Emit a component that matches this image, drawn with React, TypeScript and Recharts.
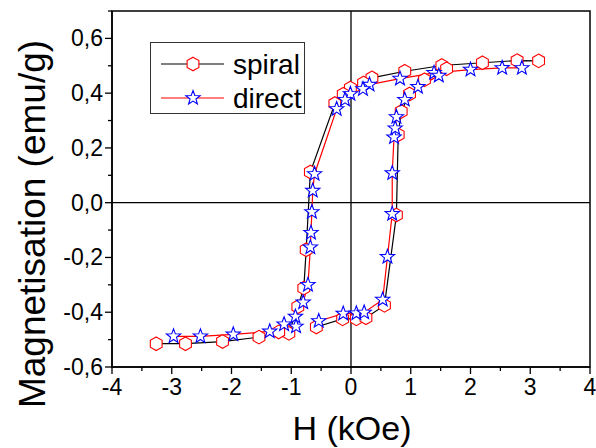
import { LineChart, Line, XAxis, YAxis, ReferenceLine, ReferenceArea, Legend, Label } from 'recharts'

// H (kOe) and M (emu/g), split in the two branches of the loop
const spiralDownH = [3.14, 2.78, 2.2, 1.52, 0.9, 0.35, 0.21, -0.01, -0.13, -0.27, -0.68, -0.75, -0.79, -0.89, -1.04, -1.21, -1.54, -2.15, -2.77, -3.26]
const spiralDownM = [0.518, 0.519, 0.511, 0.501, 0.48, 0.456, 0.437, 0.419, 0.396, 0.362, 0.112, -0.172, -0.312, -0.38, -0.477, -0.472, -0.491, -0.507, -0.515, -0.515]
const spiralUpH = [-0.58, -0.14, 0.09, 0.25, 0.56, 0.76, 0.79, 0.84, 0.98, 1.23, 1.6]
const spiralUpM = [-0.454, -0.424, -0.424, -0.42, -0.375, -0.045, 0.248, 0.333, 0.397, 0.449, 0.489]

const directDownH = [2.86, 2.53, 2.0, 1.39, 0.82, 0.31, 0.2, -0.01, -0.1, -0.24, -0.61, -0.64, -0.655, -0.67, -0.68, -0.72, -0.8, -0.93, -0.92, -1.12, -1.36, -1.97, -2.52, -2.97]
const directDownM = [0.492, 0.492, 0.486, 0.474, 0.453, 0.431, 0.415, 0.397, 0.376, 0.342, 0.105, 0.044, -0.034, -0.11, -0.163, -0.3, -0.364, -0.416, -0.452, -0.444, -0.47, -0.481, -0.488, -0.488]
const directUpH = [-0.54, -0.13, 0.09, 0.22, 0.53, 0.61, 0.69, 0.69, 0.72, 0.74, 0.76, 0.9, 1.12, 1.47]
const directUpM = [-0.432, -0.405, -0.404, -0.401, -0.354, -0.198, -0.041, 0.108, 0.239, 0.272, 0.313, 0.376, 0.423, 0.464]

const xTicks = [-4, -3.5, -3, -2.5, -2, -1.5, -1, -0.5, 0, 0.5, 1, 1.5, 2, 2.5, 3, 3.5, 4]
const xLabelTicks = [-4, -3, -2, -1, 0, 1, 2, 3, 4]
const yTicks = [-0.6, -0.5, -0.4, -0.3, -0.2, -0.1, 0, 0.1, 0.2, 0.3, 0.4, 0.5, 0.6, 0.7]
const yLabelTicks = [-0.6, -0.4, -0.2, 0, 0.2, 0.4, 0.6]

const FONT = '"Liberation Sans", Arial, sans-serif'
const TICK_SIZE = 7
const TICK_MARGIN = 2

const zip = (h: number[], m: number[]) => h.map((v, i) => ({ h: v, m: m[i] }))

function hexPoints(cx: number, cy: number, r: number) {
  const pts: string[] = []
  for (let k = 0; k < 6; k++) {
    const a = (Math.PI / 180) * (60 * k - 90)
    pts.push(`${cx + r * Math.cos(a)},${cy + r * Math.sin(a)}`)
  }
  return pts.join(' ')
}

function starPoints(cx: number, cy: number, ro: number, ri: number) {
  const pts: string[] = []
  for (let k = 0; k < 10; k++) {
    const r = k % 2 === 0 ? ro : ri
    const a = (Math.PI / 180) * (36 * k - 90)
    pts.push(`${cx + r * Math.cos(a)},${cy + r * Math.sin(a)}`)
  }
  return pts.join(' ')
}

const hexDot = (p: any) => (
  <polygon key={`hx-${p.index}`} points={hexPoints(p.cx, p.cy, 6.8)} fill="#fff" stroke="#ff0000" strokeWidth={1.1} />
)
const starDot = (p: any) => (
  <polygon key={`st-${p.index}`} points={starPoints(p.cx, p.cy, 7.5, 3.1)} fill="#fff" stroke="#0000ff" strokeWidth={1.1} />
)

const fmt = (v: number) => v.toFixed(1).replace('.', ',')

function YTick(props: any) {
  const { x, y, payload } = props
  const v = payload.value
  const major = yLabelTicks.includes(v)
  const axisX = x + TICK_MARGIN + TICK_SIZE
  return (
    <g>
      <line x1={axisX - (major ? 7 : 4)} x2={axisX} y1={y} y2={y} stroke="#000" strokeWidth={1.3} />
      {major && (
        <text x={x} y={y} dy={8} textAnchor="end" fontSize={23} fontFamily={FONT} fill="#000">{fmt(v)}</text>
      )}
    </g>
  )
}

function XTick(props: any) {
  const { x, y, payload } = props
  const v = payload.value
  const major = xLabelTicks.includes(v)
  const axisY = y - TICK_MARGIN - TICK_SIZE
  return (
    <g>
      <line x1={x} x2={x} y1={axisY} y2={axisY + (major ? 7 : 4)} stroke="#000" strokeWidth={1.3} />
      {major && (
        <text x={x} y={axisY + 28} textAnchor="middle" fontSize={23} fontFamily={FONT} fill="#000">{v}</text>
      )}
    </g>
  )
}

function LegendBox() {
  const rows = [
    { name: 'spiral', line: '#000', marker: 'hex' },
    { name: 'direct', line: '#ff0000', marker: 'star' },
  ]
  return (
    <div style={{ width: 153, height: 70, border: '1.5px solid #333', background: '#fff', boxSizing: 'content-box' }}>
      <svg width={153} height={70}>
        {rows.map((r, i) => {
          const cy = 21 + i * 34
          return (
            <g key={r.name}>
              <line x1={10} x2={73} y1={cy} y2={cy} stroke={r.line} strokeWidth={1.2} />
              {r.marker === 'hex'
                ? <polygon points={hexPoints(42, cy, 6.8)} fill="#fff" stroke="#ff0000" strokeWidth={1.1} />
                : <polygon points={starPoints(42, cy, 7.5, 3.1)} fill="#fff" stroke="#0000ff" strokeWidth={1.1} />}
              <text x={82} y={cy + 10} fontSize={28} fontFamily={FONT} fill="#000">{r.name}</text>
            </g>
          )
        })}
      </svg>
    </div>
  )
}

export default function App() {
  return (
    <div style={{ position: 'absolute', left: 0, top: 0, width: 596, height: 448, background: '#fff' }}>
      <LineChart width={596} height={448} margin={{ top: 11, right: 6, bottom: 0, left: 0 }}>
        <XAxis
          type="number"
          dataKey="h"
          domain={[-4, 4]}
          ticks={xTicks}
          interval={0}
          allowDataOverflow
          height={81}
          tickSize={TICK_SIZE}
          tickMargin={TICK_MARGIN}
          tickLine={false}
          tick={<XTick />}
          axisLine={{ stroke: '#000', strokeWidth: 1.5 }}
        >
          <Label
            content={() => (
              <text x={352} y={440} textAnchor="middle" fontSize={34} fontFamily={FONT} fill="#000">H (kOe)</text>
            )}
          />
        </XAxis>
        <YAxis
          type="number"
          dataKey="m"
          domain={[-0.6, 0.7]}
          ticks={yTicks}
          interval={0}
          allowDataOverflow
          width={112}
          tickSize={TICK_SIZE}
          tickMargin={TICK_MARGIN}
          tickLine={false}
          tick={<YTick />}
          axisLine={{ stroke: '#000', strokeWidth: 1.5 }}
        >
          <Label
            content={() => (
              <text x={45} y={224} transform="rotate(-90 45 224)" textAnchor="middle" fontSize={37} fontFamily={FONT} fill="#000">
                Magnetisation (emu/g)
              </text>
            )}
          />
        </YAxis>
        <ReferenceArea x1={-4} x2={4} y1={-0.6} y2={0.7} fill="none" stroke="#000" strokeWidth={1.5} />
        <ReferenceLine x={0} stroke="#000" strokeWidth={1.3} />
        <ReferenceLine y={0} stroke="#000" strokeWidth={1.3} />
        <Legend
          layout="horizontal"
          verticalAlign="middle"
          align="center"
          wrapperStyle={{ position: 'absolute', left: 150, top: 42, width: 156, height: 73 }}
          content={() => <LegendBox />}
        />
        <Line data={zip(spiralDownH, spiralDownM)} dataKey="m" stroke="#000" strokeWidth={1.2} dot={hexDot} isAnimationActive={false} legendType="none" />
        <Line data={zip(spiralUpH, spiralUpM)} dataKey="m" stroke="#000" strokeWidth={1.2} dot={hexDot} isAnimationActive={false} legendType="none" />
        <Line data={zip(directDownH, directDownM)} dataKey="m" stroke="#ff0000" strokeWidth={1.2} dot={starDot} isAnimationActive={false} legendType="none" />
        <Line data={zip(directUpH, directUpM)} dataKey="m" stroke="#ff0000" strokeWidth={1.2} dot={starDot} isAnimationActive={false} legendType="none" />
      </LineChart>
    </div>
  )
}
